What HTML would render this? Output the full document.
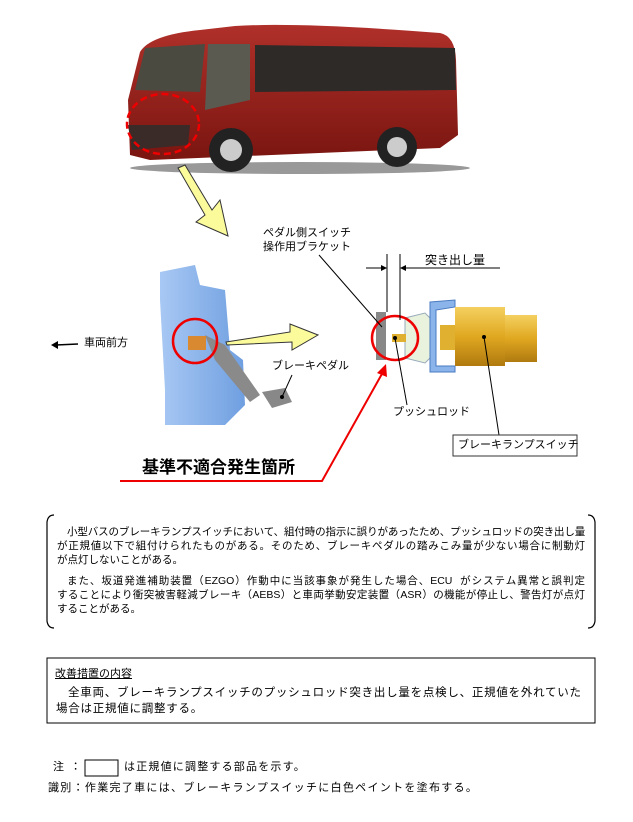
<!DOCTYPE html>
<html><head><meta charset="utf-8">
<style>
html,body{margin:0;padding:0;background:#fff;}
body{width:633px;height:822px;position:relative;overflow:hidden;font-family:"Liberation Sans","Noto Sans CJK JP",sans-serif;color:#000;}
.t{position:absolute;white-space:nowrap;line-height:1;}
.j{position:absolute;white-space:normal;line-height:1;text-align:justify;text-align-last:justify;font-size:10.5px;height:12px;overflow:visible;}
</style></head><body>
<svg width="633" height="822" style="position:absolute;left:0;top:0">
<defs>
<linearGradient id="red" x1="0" y1="0" x2="0" y2="1"><stop offset="0" stop-color="#b0302a"/><stop offset="1" stop-color="#7a1510"/></linearGradient>
<linearGradient id="gold" x1="0" y1="0" x2="0" y2="1"><stop offset="0" stop-color="#f4d060"/><stop offset="0.5" stop-color="#e0a820"/><stop offset="1" stop-color="#b07a10"/></linearGradient>
<linearGradient id="blue" x1="0" y1="0" x2="1" y2="0"><stop offset="0" stop-color="#a8c8f4"/><stop offset="1" stop-color="#6f9fe0"/></linearGradient>
</defs>
<ellipse cx="300" cy="168" rx="170" ry="6" fill="#555" opacity="0.6"/>
<path d="M128 100 L140 52 Q150 35 200 30 L235 26 Q300 22 440 33 Q455 36 456 60 L458 135 L440 148 L150 160 L130 155 Z" fill="url(#red)"/>
<path d="M135 90 L145 48 L205 44 L200 92 Z" fill="#4a4a40"/>
<path d="M208 44 L250 44 L250 100 L205 110 Z" fill="#5a5a50"/>
<path d="M255 45 L455 48 L456 90 L255 92 Z" fill="#2e2a28"/>
<path d="M128 125 L190 125 L188 145 L132 150 Z" fill="#3a2a28"/>
<ellipse cx="163" cy="124" rx="36" ry="30" fill="none" stroke="#e00" stroke-width="2.5" stroke-dasharray="7,4"/>
<circle cx="231" cy="150" r="22" fill="#222"/><circle cx="231" cy="150" r="11" fill="#ccc"/>
<circle cx="397" cy="147" r="20" fill="#222"/><circle cx="397" cy="147" r="10" fill="#ccc"/>
<polygon points="178,168 185,165 212,210 220,200 228,236 196,222 205,215" fill="#fbfb9c" stroke="#333" stroke-width="1"/>
<path d="M160 272 L195 265 L200 285 L225 290 L230 350 L243 360 L245 405 L225 425 L165 425 L165 390 L160 300 Z" fill="url(#blue)"/>
<path d="M205 335 L225 345 L260 395 L250 402 L215 360 Z" fill="#8a8a8a"/>
<path d="M262 392 L285 388 L292 402 L272 408 Z" fill="#888"/>
<rect x="188" y="336" width="18" height="14" fill="#d98a30"/>
<ellipse cx="195" cy="341" rx="22" ry="22" fill="none" stroke="#e00" stroke-width="2.5"/>
<polygon points="226,342 290,332 290,324 318,335 292,350 292,342 227,345" fill="#fbfb9c" stroke="#333" stroke-width="1"/>
<line x1="56" y1="345" x2="78" y2="344" stroke="#000" stroke-width="1.5"/>
<polygon points="51,345 58,341 58,349" fill="#000"/>
<line x1="292" y1="375" x2="282" y2="397" stroke="#000" stroke-width="1"/>
<rect x="376" y="312" width="10" height="48" fill="#888"/>
<path d="M405 318 L425 313 L430 318 L430 358 L425 363 L405 358 Z" fill="#e8f2dc" stroke="#9ab" stroke-width="1"/>
<path d="M430 302 L455 300 L455 307 L436 310 L436 366 L455 366 L455 372 L430 372 Z" fill="#8ab4ea" stroke="#4a7ac0" stroke-width="1"/>
<rect x="455" y="307" width="50" height="59" fill="url(#gold)"/>
<rect x="505" y="315" width="32" height="47" fill="url(#gold)"/>
<rect x="440" y="325" width="15" height="25" fill="#e0b030"/>
<rect x="392" y="334" width="14" height="8" fill="#e0b030"/>
<ellipse cx="395" cy="338" rx="23" ry="22" fill="none" stroke="#e00" stroke-width="2.5"/>
<line x1="387" y1="254" x2="387" y2="312" stroke="#000" stroke-width="1"/>
<line x1="400" y1="254" x2="400" y2="320" stroke="#000" stroke-width="1"/>
<line x1="366" y1="268" x2="386" y2="268" stroke="#000" stroke-width="1"/>
<polygon points="387,268 381,265 381,271" fill="#000"/>
<line x1="401" y1="268" x2="500" y2="268" stroke="#000" stroke-width="1"/>
<polygon points="400,268 406,265 406,271" fill="#000"/>
<line x1="319" y1="255" x2="382" y2="327" stroke="#000" stroke-width="1"/>
<line x1="407" y1="405" x2="395" y2="338" stroke="#000" stroke-width="1"/>
<circle cx="395" cy="338" r="2" fill="#000"/>
<line x1="499" y1="435" x2="484" y2="337" stroke="#000" stroke-width="1"/>
<circle cx="484" cy="337" r="2" fill="#000"/>
<circle cx="282" cy="397" r="2" fill="#000"/>
<rect x="453" y="435" width="124" height="21" fill="#fff" stroke="#333" stroke-width="1"/>
<polyline points="120,481 322,481 383,372" fill="none" stroke="#e00" stroke-width="2"/>
<polygon points="386,364 377,373 387,377" fill="#e00"/>
<path d="M54 515 Q48 515 47 522 L47 621 Q48 628 54 628" fill="none" stroke="#000" stroke-width="1.2"/>
<path d="M588 515 Q594 515 595 522 L595 621 Q594 628 588 628" fill="none" stroke="#000" stroke-width="1.2"/>
<rect x="47" y="658" width="548" height="65" fill="none" stroke="#000" stroke-width="1"/>
<rect x="85" y="760" width="33" height="16" fill="none" stroke="#000" stroke-width="1"/>
</svg>

<div class="t" style="left:263px;top:226px;font-size:11px;line-height:14px;">ペダル側スイッチ<br>操作用ブラケット</div>
<div class="t" style="left:425px;top:254px;font-size:12px;">突き出し量</div>
<div class="t" style="left:84px;top:338px;font-size:11px;">車両前方</div>
<div class="t" style="left:272px;top:361px;font-size:11px;">ブレーキペダル</div>
<div class="t" style="left:393px;top:407px;font-size:11px;">プッシュロッド</div>
<div class="t" style="left:458px;top:440px;font-size:11px;">ブレーキランプスイッチ</div>
<div class="t" style="left:142px;top:459px;font-size:17px;font-weight:bold;">基準不適合発生箇所</div>

<div class="j" style="left:67px;top:527px;width:518px;letter-spacing:-0.3px;">小型バスのブレーキランプスイッチにおいて、組付時の指示に誤りがあったため、プッシュロッドの突き出し量</div>
<div class="j" style="left:57px;top:541px;width:528px;">が正規値以下で組付けられたものがある。そのため、ブレーキペダルの踏みこみ量が少ない場合に制動灯</div>
<div class="t" style="left:57px;top:555px;font-size:10.5px;">が点灯しないことがある。</div>
<div class="j" style="left:67px;top:576px;width:518px;">また、坂道発進補助装置（EZGO）作動中に当該事象が発生した場合、ECU&nbsp; がシステム異常と誤判定</div>
<div class="j" style="left:57px;top:590px;width:528px;">することにより衝突被害軽減ブレーキ（AEBS）と車両挙動安定装置（ASR）の機能が停止し、警告灯が点灯</div>
<div class="t" style="left:57px;top:604px;font-size:10.5px;">することがある。</div>

<div class="t" style="left:55px;top:669px;font-size:11px;text-decoration:underline;">改善措置の内容</div>
<div class="t" style="left:68px;top:688px;font-size:11.5px;letter-spacing:0.75px;">全車両、ブレーキランプスイッチのプッシュロッド突き出し量を点検し、正規値を外れていた</div>
<div class="t" style="left:56px;top:704px;font-size:11.5px;letter-spacing:0.75px;">場合は正規値に調整する。</div>

<div class="t" style="left:53px;top:762px;font-size:11px;">注&nbsp;&nbsp;：</div>
<div class="t" style="left:124px;top:762px;font-size:11px;letter-spacing:1.2px;">は正規値に調整する部品を示す。</div>
<div class="t" style="left:48px;top:783px;font-size:11px;letter-spacing:1.3px;">識別：作業完了車には、ブレーキランプスイッチに白色ペイントを塗布する。</div>
</body></html>
